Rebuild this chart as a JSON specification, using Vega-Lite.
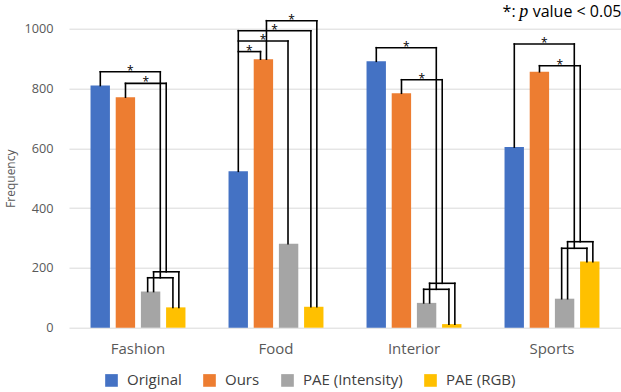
{
  "$schema": "https://vega.github.io/schema/vega-lite/v6.json",
  "width": 552,
  "height": 299,
  "autosize": {"type": "none"},
  "padding": {"left": 69, "top": 28.7, "right": 0, "bottom": 64.3},
  "config": {"font": "Open Sans", "view": {"stroke": null}},
  "datasets": {
    "bars": [
      {"category": "Fashion", "series": "Original", "value": 810},
      {"category": "Fashion", "series": "Ours", "value": 771},
      {"category": "Fashion", "series": "PAE (Intensity)", "value": 121},
      {"category": "Fashion", "series": "PAE (RGB)", "value": 68},
      {"category": "Food", "series": "Original", "value": 523},
      {"category": "Food", "series": "Ours", "value": 898},
      {"category": "Food", "series": "PAE (Intensity)", "value": 281},
      {"category": "Food", "series": "PAE (RGB)", "value": 70},
      {"category": "Interior", "series": "Original", "value": 891},
      {"category": "Interior", "series": "Ours", "value": 784},
      {"category": "Interior", "series": "PAE (Intensity)", "value": 83},
      {"category": "Interior", "series": "PAE (RGB)", "value": 12},
      {"category": "Sports", "series": "Original", "value": 604},
      {"category": "Sports", "series": "Ours", "value": 856},
      {"category": "Sports", "series": "PAE (Intensity)", "value": 97},
      {"category": "Sports", "series": "PAE (RGB)", "value": 221}
    ],
    "brackets": [
      {"x": 0.2268, "x2": 0.2268, "y": 810, "y2": 856},
      {"x": 0.2268, "x2": 0.6615, "y": 856, "y2": 856},
      {"x": 0.6615, "x2": 0.6615, "y": 856, "y2": 167},
      {"x": 0.570, "x2": 0.753, "y": 167, "y2": 167},
      {"x": 0.570, "x2": 0.570, "y": 167, "y2": 121},
      {"x": 0.753, "x2": 0.753, "y": 167, "y2": 68},
      {"x": 0.4093, "x2": 0.4093, "y": 771, "y2": 817},
      {"x": 0.4093, "x2": 0.7045, "y": 817, "y2": 817},
      {"x": 0.7045, "x2": 0.7045, "y": 817, "y2": 187},
      {"x": 0.613, "x2": 0.796, "y": 187, "y2": 187},
      {"x": 0.613, "x2": 0.613, "y": 187, "y2": 121},
      {"x": 0.796, "x2": 0.796, "y": 187, "y2": 68},

      {"x": 1.2268, "x2": 1.2268, "y": 523, "y2": 993.3},
      {"x": 1.2268, "x2": 1.3877, "y": 923.4, "y2": 923.4},
      {"x": 1.3877, "x2": 1.3877, "y": 923.4, "y2": 898},
      {"x": 1.2268, "x2": 1.587, "y": 958.9, "y2": 958.9},
      {"x": 1.587, "x2": 1.587, "y": 958.9, "y2": 281},
      {"x": 1.2268, "x2": 1.7527, "y": 993.3, "y2": 993.3},
      {"x": 1.7527, "x2": 1.7527, "y": 993.3, "y2": 70},
      {"x": 1.4309, "x2": 1.4309, "y": 898, "y2": 1026.8},
      {"x": 1.4309, "x2": 1.7959, "y": 1026.8, "y2": 1026.8},
      {"x": 1.7959, "x2": 1.7959, "y": 1026.8, "y2": 70},

      {"x": 2.2268, "x2": 2.2268, "y": 891, "y2": 936.5},
      {"x": 2.2268, "x2": 2.6615, "y": 936.5, "y2": 936.5},
      {"x": 2.6615, "x2": 2.6615, "y": 936.5, "y2": 128.4},
      {"x": 2.570, "x2": 2.753, "y": 128.4, "y2": 128.4},
      {"x": 2.570, "x2": 2.570, "y": 128.4, "y2": 83},
      {"x": 2.753, "x2": 2.753, "y": 128.4, "y2": 12},
      {"x": 2.4093, "x2": 2.4093, "y": 784, "y2": 829.4},
      {"x": 2.4093, "x2": 2.7045, "y": 829.4, "y2": 829.4},
      {"x": 2.7045, "x2": 2.7045, "y": 829.4, "y2": 148.5},
      {"x": 2.613, "x2": 2.796, "y": 148.5, "y2": 148.5},
      {"x": 2.613, "x2": 2.613, "y": 148.5, "y2": 83},
      {"x": 2.796, "x2": 2.796, "y": 148.5, "y2": 12},

      {"x": 3.2268, "x2": 3.2268, "y": 604, "y2": 948.8},
      {"x": 3.2268, "x2": 3.6615, "y": 948.8, "y2": 948.8},
      {"x": 3.6615, "x2": 3.6615, "y": 948.8, "y2": 265.6},
      {"x": 3.570, "x2": 3.753, "y": 265.6, "y2": 265.6},
      {"x": 3.570, "x2": 3.570, "y": 265.6, "y2": 97},
      {"x": 3.753, "x2": 3.753, "y": 265.6, "y2": 221},
      {"x": 3.4093, "x2": 3.4093, "y": 856, "y2": 876.3},
      {"x": 3.4093, "x2": 3.7045, "y": 876.3, "y2": 876.3},
      {"x": 3.7045, "x2": 3.7045, "y": 876.3, "y2": 287.6},
      {"x": 3.613, "x2": 3.796, "y": 287.6, "y2": 287.6},
      {"x": 3.613, "x2": 3.613, "y": 287.6, "y2": 97},
      {"x": 3.796, "x2": 3.796, "y": 287.6, "y2": 221}
    ],
    "stars": [
      {"x": 0.444, "y": 856}, {"x": 0.557, "y": 817},
      {"x": 1.307, "y": 923.4}, {"x": 1.407, "y": 958.9}, {"x": 1.490, "y": 993.3}, {"x": 1.613, "y": 1026.8},
      {"x": 2.444, "y": 936.5}, {"x": 2.557, "y": 829.4},
      {"x": 3.444, "y": 948.8}, {"x": 3.557, "y": 876.3}
    ],
    "note": [
      {"part": "star", "text": "*:", "x": 3.142, "y": 1037.5},
      {"part": "p", "text": "p", "x": 3.262, "y": 1037.5},
      {"part": "rest", "text": "value < 0.05", "x": 3.36, "y": 1037.5}
    ]
  },
  "layer": [
    {
      "data": {"name": "bars"},
      "mark": {"type": "bar"},
      "encoding": {
        "x": {
          "field": "category", "type": "nominal", "sort": ["Fashion", "Food", "Interior", "Sports"],
          "scale": {"paddingInner": 0, "paddingOuter": 0},
          "axis": {"title": null, "labelAngle": 0, "labelFontSize": 15, "labelColor": "#595959", "labelPadding": 14, "ticks": false, "domain": false}
        },
        "xOffset": {
          "field": "series", "type": "nominal", "sort": ["Original", "Ours", "PAE (Intensity)", "PAE (RGB)"],
          "scale": {"paddingInner": 0.23, "paddingOuter": 0.855}
        },
        "y": {
          "field": "value", "type": "quantitative",
          "scale": {"domain": [0, 1000], "nice": false},
          "axis": {"title": "Frequency", "titleFontSize": 12, "titleFontWeight": "normal", "titleColor": "#595959", "titlePadding": 6,
                   "values": [0, 200, 400, 600, 800, 1000], "format": "d", "labelFontSize": 12.7, "labelColor": "#595959", "labelPadding": 16,
                   "ticks": false, "domain": false, "gridColor": "#d9d9d9", "gridWidth": 1}
        },
        "color": {
          "field": "series", "type": "nominal",
          "scale": {"domain": ["Original", "Ours", "PAE (Intensity)", "PAE (RGB)"], "range": ["#4472C4", "#ED7D31", "#A5A5A5", "#FFC000"]},
          "legend": {"title": null, "orient": "none", "legendX": 35, "legendY": 344, "direction": "horizontal",
                     "symbolType": "square", "symbolSize": 160, "symbolStrokeWidth": 0, "labelFontSize": 15, "labelColor": "#404040",
                     "columnPadding": 20, "labelOffset": 8}
        }
      }
    },
    {
      "data": {"name": "brackets"},
      "mark": {"type": "rule", "color": "#000000", "strokeWidth": 1.6, "strokeCap": "square"},
      "encoding": {
        "x": {"field": "x", "type": "quantitative", "scale": {"domain": [0, 4], "nice": false, "zero": false}, "axis": null},
        "x2": {"field": "x2"},
        "y": {"field": "y", "type": "quantitative", "scale": {"domain": [0, 1000], "nice": false}},
        "y2": {"field": "y2"}
      }
    },
    {
      "data": {"name": "stars"},
      "mark": {"type": "text", "text": "*", "fontSize": 12, "baseline": "alphabetic", "align": "center", "dy": 3, "color": "#000000"},
      "encoding": {
        "x": {"field": "x", "type": "quantitative", "scale": {"domain": [0, 4], "nice": false, "zero": false}, "axis": null},
        "y": {"field": "y", "type": "quantitative", "scale": {"domain": [0, 1000], "nice": false}}
      }
    },
    {
      "data": {"name": "note"},
      "transform": [{"filter": "datum.part === 'star'"}],
      "mark": {"type": "text", "fontSize": 16, "baseline": "alphabetic", "align": "left", "color": "#000000"},
      "encoding": {
        "text": {"field": "text"},
        "x": {"field": "x", "type": "quantitative", "scale": {"domain": [0, 4], "nice": false, "zero": false}, "axis": null},
        "y": {"field": "y", "type": "quantitative", "scale": {"domain": [0, 1000], "nice": false}}
      }
    },
    {
      "data": {"name": "note"},
      "transform": [{"filter": "datum.part === 'p'"}],
      "mark": {"type": "text", "font": "Liberation Serif", "fontStyle": "italic", "fontSize": 18, "baseline": "alphabetic", "align": "left", "color": "#000000"},
      "encoding": {
        "text": {"field": "text"},
        "x": {"field": "x", "type": "quantitative", "scale": {"domain": [0, 4], "nice": false, "zero": false}, "axis": null},
        "y": {"field": "y", "type": "quantitative", "scale": {"domain": [0, 1000], "nice": false}}
      }
    },
    {
      "data": {"name": "note"},
      "transform": [{"filter": "datum.part === 'rest'"}],
      "mark": {"type": "text", "fontSize": 16, "baseline": "alphabetic", "align": "left", "color": "#000000"},
      "encoding": {
        "text": {"field": "text"},
        "x": {"field": "x", "type": "quantitative", "scale": {"domain": [0, 4], "nice": false, "zero": false}, "axis": null},
        "y": {"field": "y", "type": "quantitative", "scale": {"domain": [0, 1000], "nice": false}}
      }
    }
  ],
  "resolve": {"scale": {"x": "independent"}, "axis": {"x": "independent"}}
}
